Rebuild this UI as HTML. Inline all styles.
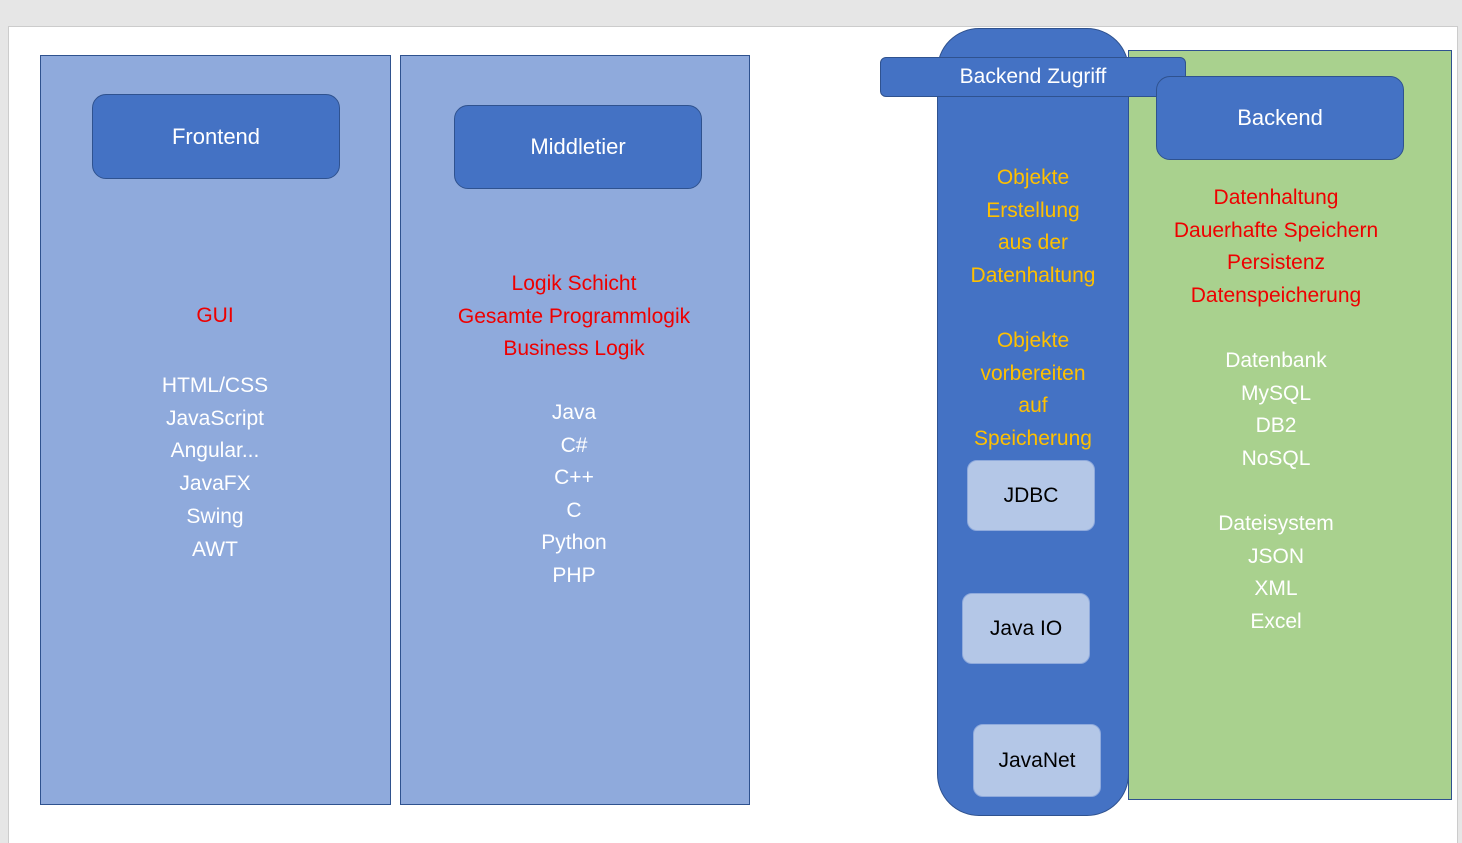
<!DOCTYPE html>
<html><head><meta charset="utf-8"><style>
body{margin:0;width:1462px;height:843px;background:#e6e6e6;position:relative;overflow:hidden;font-family:"Liberation Sans",sans-serif}
div{position:absolute;box-sizing:border-box}
.t{width:400px;text-align:center;font-size:21px;line-height:22px;white-space:nowrap}
.btn{background:#4472c4;border:1.5px solid #2f528f;border-radius:14px;color:#fff;font-size:22px;display:flex;align-items:center;justify-content:center}
.lb{background:#b4c7e7;border:1.5px solid #8faadc;border-radius:10px;color:#000;font-size:21px;display:flex;align-items:center;justify-content:center}
</style></head><body>
<div style="left:8px;top:26px;width:1450px;height:817px;background:#fff;border-left:1px solid #ccc;border-top:1px solid #ccc;border-right:1px solid #ccc"></div>
<div style="left:40px;top:55px;width:351px;height:750px;background:#8faadc;border:1.5px solid #2f528f"></div>
<div style="left:400px;top:55px;width:350px;height:750px;background:#8faadc;border:1.5px solid #2f528f"></div>
<div class="btn" style="left:92px;top:94px;width:248px;height:85px">Frontend</div>
<div class="btn" style="left:454px;top:105px;width:248px;height:84px">Middletier</div>
<div style="left:1128px;top:50px;width:324px;height:750px;background:#a9d18e;border:1.5px solid #2f528f"></div>
<div style="left:937px;top:28px;width:192px;height:788px;background:#4472c4;border:1.5px solid #2f528f;border-radius:42px"></div>
<div class="btn" style="left:880px;top:57px;width:306px;height:40px;border-radius:6px;font-size:21px">Backend Zugriff</div>
<div class="btn" style="left:1156px;top:76px;width:248px;height:84px">Backend</div>
<div class="lb" style="left:967px;top:460px;width:128px;height:71px">JDBC</div>
<div class="lb" style="left:962px;top:593px;width:128px;height:71px">Java IO</div>
<div class="lb" style="left:973px;top:724px;width:128px;height:73px">JavaNet</div>
<div class="t" style="left:15px;top:305px;color:#e00">GUI</div>
<div class="t" style="left:15px;top:370px;color:#fff;line-height:32.7px">HTML/CSS<br>JavaScript<br>Angular...<br>JavaFX<br>Swing<br>AWT</div>
<div class="t" style="left:374px;top:268px;color:#e00;line-height:32.5px">Logik Schicht<br>Gesamte Programmlogik<br>Business Logik</div>
<div class="t" style="left:374px;top:397px;color:#fff;line-height:32.6px">Java<br>C#<br>C++<br>C<br>Python<br>PHP</div>
<div class="t" style="left:833px;top:162px;color:#ffc000;line-height:32.7px">Objekte<br>Erstellung<br>aus der<br>Datenhaltung</div>
<div class="t" style="left:833px;top:325px;color:#ffc000;line-height:32.7px">Objekte<br>vorbereiten<br>auf<br>Speicherung</div>
<div class="t" style="left:1076px;top:182px;color:#e00;line-height:32.7px">Datenhaltung<br>Dauerhafte Speichern<br>Persistenz<br>Datenspeicherung</div>
<div class="t" style="left:1076px;top:345px;color:#fff;line-height:32.7px">Datenbank<br>MySQL<br>DB2<br>NoSQL</div>
<div class="t" style="left:1076px;top:508px;color:#fff;line-height:32.7px">Dateisystem<br>JSON<br>XML<br>Excel</div>
</body></html>
